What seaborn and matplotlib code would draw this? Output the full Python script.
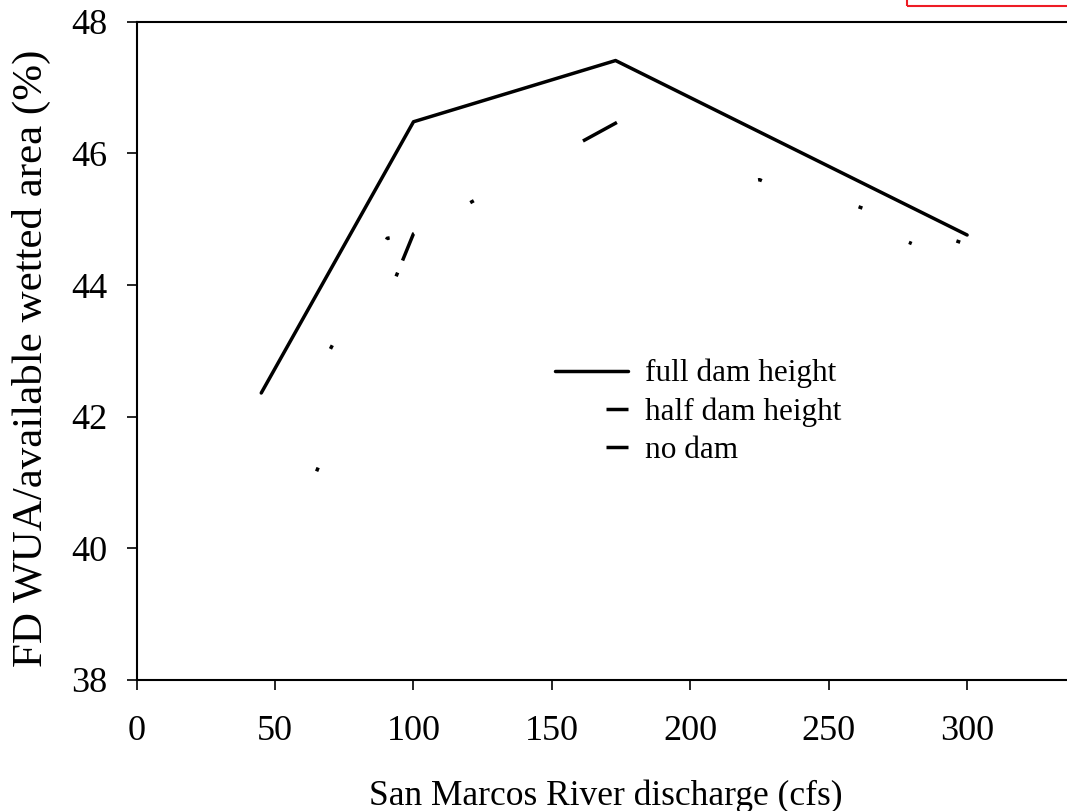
import matplotlib
matplotlib.use("Agg")
import matplotlib.pyplot as plt
from matplotlib.lines import Line2D
from matplotlib.patches import Rectangle
import seaborn as sns
import pandas as pd

# ---- data ----
full_x = [45, 100, 173, 300]
full_y = [42.36, 46.48, 47.41, 44.76]

half_x = [65, 100, 173.5, 297.5]
half_y = [41.17, 44.78, 46.47, 44.65]

nodam_x = [70, 90.5, 225, 280]
nodam_y = [43.03, 44.71, 45.60, 44.63]

series_labels = ["full dam height", "half dam height", "no dam"]
x_ticks = [0, 50, 100, 150, 200, 250, 300]
y_ticks = [38, 40, 42, 44, 46, 48]
x_label = "San Marcos River discharge (cfs)"
y_label = "FD WUA/available wetted area (%)"

# ---- style ----
sns.set_theme(style="white")
plt.rcParams["font.family"] = ["Liberation Serif", "DejaVu Serif"]
plt.rcParams["text.color"] = "black"
plt.rcParams["axes.labelcolor"] = "black"
plt.rcParams["lines.scale_dashes"] = False
plt.rcParams["lines.dash_capstyle"] = "butt"

W, H, DPI = 1067, 811, 100
fig = plt.figure(figsize=(W / DPI, H / DPI), dpi=DPI)
fig.patch.set_facecolor("white")

ax_left_px, ax_bottom_px, ax_top_px = 136.7, 680.0, 21.7
ax_w_px = 960.0
ax = fig.add_axes([ax_left_px / W, 1 - ax_bottom_px / H,
                   ax_w_px / W, (ax_bottom_px - ax_top_px) / H])
ax.set_facecolor("white")

px_per_unit = 2.768
ax.set_xlim(0, ax_w_px / px_per_unit)
ax.set_ylim(38, 48)

LW = 2.5
# sparse dash patterns (points) mimicking the original rendering
half_dash = (0, (2.9, 148.7, 2.9, 9.4, 21.24, 46.2, 2.9, 89.6,
                 27.86, 184.3, 2.9, 71.7, 2.9, 144.0))
nodam_dash = (0, (2.9, 85.5, 2.9, 268.5, 2.9, 114.8, 2.9, 72.0))
legend_dash = (15.84, (15.84, 36.72))

df_full = pd.DataFrame({"x": full_x, "y": full_y})
df_half = pd.DataFrame({"x": half_x, "y": half_y})
df_nodam = pd.DataFrame({"x": nodam_x, "y": nodam_y})

sns.lineplot(data=df_full, x="x", y="y", ax=ax, color="black",
             linewidth=LW, errorbar=None)
sns.lineplot(data=df_half, x="x", y="y", ax=ax, color="black",
             linewidth=LW, errorbar=None, linestyle=half_dash)
sns.lineplot(data=df_nodam, x="x", y="y", ax=ax, color="black",
             linewidth=LW, errorbar=None, linestyle=nodam_dash)

# axes styling
for s in ["left", "bottom", "top"]:
    ax.spines[s].set_visible(True)
    ax.spines[s].set_color("black")
    ax.spines[s].set_linewidth(1.5)
ax.spines["right"].set_visible(False)

ax.set_xticks(x_ticks)
ax.set_yticks(y_ticks)
ax.set_xticklabels([str(v) for v in x_ticks])
ax.set_yticklabels([str(v) for v in y_ticks])
ax.tick_params(axis="both", direction="out", length=7.2, width=1.2,
               color="black", labelsize=26, labelcolor="black")
ax.tick_params(axis="x", pad=18, bottom=True, top=False)
ax.tick_params(axis="y", pad=14, left=True, right=False)
ax.grid(False)

ax.set_xlabel(x_label, fontsize=25.5, color="black")
ax.set_ylabel(y_label, fontsize=31, color="black")
ax.xaxis.set_label_coords((606 - ax_left_px) / ax_w_px, (ax_bottom_px - 805) / (ax_bottom_px - ax_top_px))
ax.xaxis.label.set_verticalalignment("baseline")
ax.yaxis.set_label_coords((31 - ax_left_px) / ax_w_px, (ax_bottom_px - 358) / (ax_bottom_px - ax_top_px))
ax.yaxis.label.set_verticalalignment("center")

# legend
handles = [
    Line2D([], [], color="black", linewidth=LW),
    Line2D([], [], color="black", linewidth=LW, linestyle=legend_dash),
    Line2D([], [], color="black", linewidth=LW, linestyle=legend_dash),
]
fs_leg = 22.5
fs_px = fs_leg * DPI / 72
leg = ax.legend(handles, series_labels, frameon=False, fontsize=fs_leg,
                handlelength=73 / fs_px, handletextpad=17 / fs_px,
                labelspacing=0.28, borderpad=0, borderaxespad=0,
                loc="upper left",
                bbox_to_anchor=(555 / W, 1 - 359 / H),
                bbox_transform=fig.transFigure)
for t in leg.get_texts():
    t.set_color("black")

# red outlined box partially visible at the top-right corner
fig.patches.append(Rectangle((907 / W, 1 - 5.5 / H), 0.5, 0.5,
                             transform=fig.transFigure, fill=False,
                             edgecolor="#ee1c25", linewidth=1.5,
                             clip_on=False))

fig.savefig("out.png", dpi=DPI)
